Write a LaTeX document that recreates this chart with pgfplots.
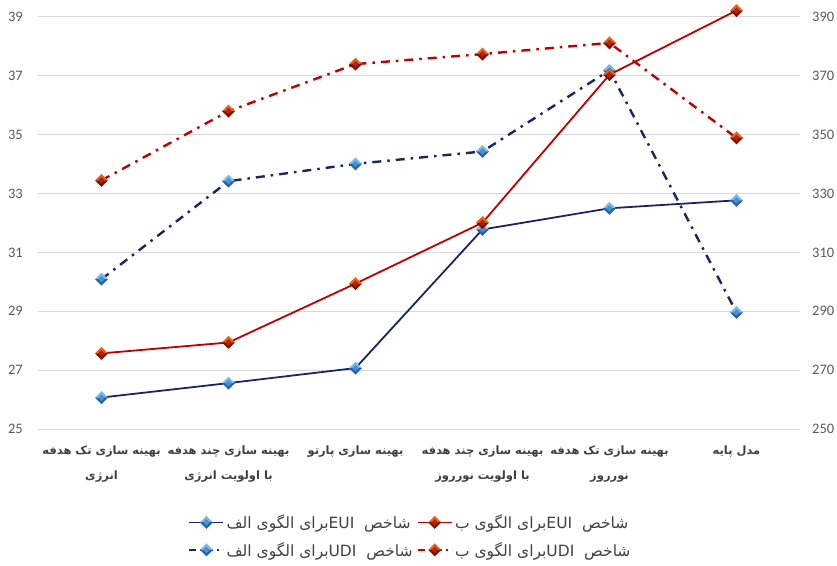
\documentclass[border=0pt]{standalone}
\usepackage{pgfplots}
\pgfplotsset{compat=1.18}
\usepackage{fontspec}
\setmainfont{Carlito}
\newfontfamily\fa[Script=Arabic]{DejaVu Sans}
\TeXXeTstate=1

\definecolor{navyline}{RGB}{28,38,94}
\definecolor{redline}{RGB}{192,0,0}
\definecolor{gridgray}{RGB}{217,217,217}
\definecolor{numgray}{RGB}{89,89,89}
\definecolor{txtgray}{RGB}{64,64,64}

% bevelled diamond marks: light upper facet, dark lower facet, mid-tone centre
\newcommand\bevelmark[4]{%
  \pgfdeclareplotmark{#1}{%
    \pgfsetdash{}{0pt}%
    \pgfpathmoveto{\pgfqpoint{-\pgfplotmarksize}{0pt}}%
    \pgfpathlineto{\pgfqpoint{0pt}{\pgfplotmarksize}}%
    \pgfpathlineto{\pgfqpoint{\pgfplotmarksize}{0pt}}%
    \pgfpathclose
    \pgfsetfillcolor{#2}\pgfusepathqfill
    \pgfpathmoveto{\pgfqpoint{-\pgfplotmarksize}{0pt}}%
    \pgfpathlineto{\pgfqpoint{0pt}{-\pgfplotmarksize}}%
    \pgfpathlineto{\pgfqpoint{\pgfplotmarksize}{0pt}}%
    \pgfpathclose
    \pgfsetfillcolor{#3}\pgfusepathqfill
    \pgfpathmoveto{\pgfqpoint{-0.5\pgfplotmarksize}{0pt}}%
    \pgfpathlineto{\pgfqpoint{0pt}{0.5\pgfplotmarksize}}%
    \pgfpathlineto{\pgfqpoint{0.5\pgfplotmarksize}{0pt}}%
    \pgfpathlineto{\pgfqpoint{0pt}{-0.5\pgfplotmarksize}}%
    \pgfpathclose
    \pgfsetfillcolor{#4}\pgfusepathqfill
  }%
}
\definecolor{bhi}{RGB}{120,188,236}
\definecolor{blo}{RGB}{36,100,170}
\definecolor{bmid}{RGB}{72,146,210}
\definecolor{rhi}{RGB}{232,96,24}
\definecolor{rlo}{RGB}{128,16,0}
\definecolor{rmid}{RGB}{176,36,8}
\bevelmark{bevblue}{bhi}{blo}{bmid}
\bevelmark{bevred}{rhi}{rlo}{rmid}

\tikzset{
  euiA/.style={navyline, line width=1.8pt, mark=bevblue, mark size=6.5pt},
  euiB/.style={redline, line width=1.8pt, mark=bevred, mark size=6.5pt},
  udiA/.style={navyline, line width=2.4pt, dash pattern=on 9pt off 6pt on 2.5pt off 6pt, mark=bevblue, mark size=6.5pt},
  udiB/.style={redline, line width=2.4pt, dash pattern=on 9pt off 6pt on 2.5pt off 6pt, mark=bevred, mark size=6.5pt},
}

\pgfplotsset{
  common/.style={
    width=762pt, height=412pt, scale only axis,
    xmin=-0.5, xmax=5.5, clip=false,
    major tick length=0pt,
    /pgf/number format/assume math mode=true,
    tick label style={font=\fontsize{14.5}{16}\selectfont, text=numgray},
  },
}

\begin{document}
\begin{tikzpicture}
% secondary axis (UDI), right-hand scale, carries the grid
\begin{axis}[common,
  ymin=250, ymax=390, ytick={250,270,...,390},
  axis y line*=right, axis x line=none,
  y axis line style={draw=none},
  ymajorgrids, major grid style={gridgray, line width=1pt},
  yticklabel style={inner sep=0pt, xshift=12pt, anchor=west},
]
\addplot[udiA] coordinates {(0,300.9) (1,334.2) (2,340.1) (3,344.3) (4,371.9) (5,289.6)};
\addplot[udiB] coordinates {(0,334.5) (1,358.0) (2,374.0) (3,377.4) (4,381.2) (5,348.9)};
\end{axis}

% primary axis (EUI), left-hand scale, categories and legend
\begin{axis}[common,
  ymin=25, ymax=39, ytick={25,27,...,39},
  axis y line*=left, axis x line*=bottom,
  axis line style={draw=none},
  xtick={0,...,5},
  xticklabels={
    {\beginR بهینه سازی تک هدفه\endR\\\beginR انرژی\endR},
    {\beginR بهینه سازی چند هدفه\endR\\\beginR با اولویت انرژی\endR},
    {\beginR بهینه سازی پارتو\endR},
    {\beginR بهینه سازی چند هدفه\endR\\\beginR با اولویت نورروز\endR},
    {\beginR بهینه سازی تک هدفه\endR\\\beginR نورروز\endR},
    {\beginR مدل پایه\endR}},
  xticklabel style={font=\fa\bfseries\fontsize{11.5}{25}\selectfont, text=txtgray,
    align=center, anchor=north, inner sep=0pt, yshift=-16.5pt},
  yticklabel style={inner sep=0pt, xshift=-15pt, anchor=east},
  legend columns=2,
  legend cell align=left,
  legend image code/.code={%
    \draw[mark repeat=2, mark phase=2, #1] plot coordinates {(0pt,0pt) (17pt,0pt) (34pt,0pt)};},
  legend style={at={(0.193,-0.26)}, anchor=west, draw=none, fill=none,
    font=\fa\fontsize{15.5}{18}\selectfont, text=txtgray,
    row sep=8pt,
    /tikz/every even column/.append style={column sep=2pt}},
]
\addplot[euiA] coordinates {(0,26.07) (1,26.56) (2,27.07) (3,31.78) (4,32.50) (5,32.77)};
\addlegendentry{\beginR شاخص\ \ \beginL EUI\endL{}برای الگوی الف\endR}
\addplot[euiB] coordinates {(0,27.57) (1,27.94) (2,29.94) (3,32.01) (4,37.04) (5,39.22)};
\addlegendentry{\beginR شاخص\ \ \beginL EUI\endL{}برای الگوی ب\endR}
\addlegendimage{udiA, dash pattern=on 7pt off 4pt on 2pt off 4pt}
\addlegendentry{\beginR شاخص\ \ \beginL UDI\endL{}برای الگوی الف\endR}
\addlegendimage{udiB, dash pattern=on 7pt off 4pt on 2pt off 4pt}
\addlegendentry{\beginR شاخص\ \ \beginL UDI\endL{}برای الگوی ب\endR}
\end{axis}
\pgfresetboundingbox
\path (-38pt,-136pt) rectangle (799pt,429pt);
\end{tikzpicture}
\end{document}
